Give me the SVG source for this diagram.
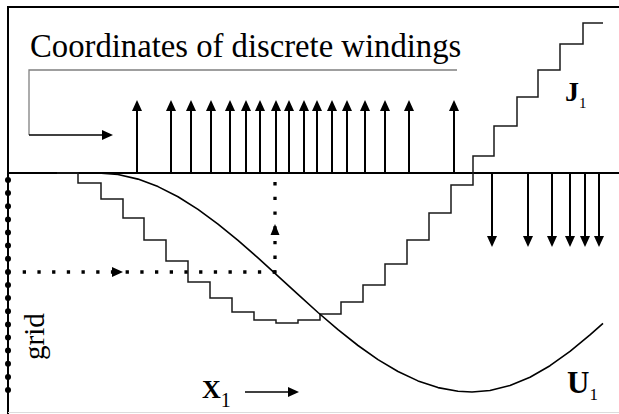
<svg xmlns="http://www.w3.org/2000/svg" width="619" height="414" viewBox="0 0 619 414">
<style>
.frame{stroke:#000;stroke-width:2;fill:none}
.axis{stroke:#000;stroke-width:2;fill:none}
.arr{stroke:#000;stroke-width:2;fill:none;marker-end:url(#ah)}
.thin{stroke:#000;stroke-width:1.4;fill:none}
.stair{stroke:#1a1a1a;stroke-width:1.5;fill:none}
.curve{stroke:#000;stroke-width:1.6;fill:none;stroke-linejoin:round}
.dots{stroke:#000;stroke-width:3.3;fill:none;stroke-dasharray:3.3 11.4}
text{font-family:"Liberation Serif","Times New Roman",serif;fill:#000}
.b{font-weight:bold}
</style>
<defs>
<marker id="ah" viewBox="0 0 11 10" refX="1" refY="5" markerWidth="11" markerHeight="10" markerUnits="userSpaceOnUse" orient="auto">
<path d="M0,0 L11,5 L0,10 Z" fill="#000"/>
</marker>
</defs>
<g id="frame">
<line class="frame" x1="8" y1="7" x2="619" y2="7"/>
<line class="frame" x1="8" y1="6" x2="8" y2="414"/>
<line x1="8" y1="412.5" x2="619" y2="412.5" stroke="#dcdcdc" stroke-width="1"/>
</g>
<g id="title">
<text font-family="Liberation Serif, serif" x="30" y="57" font-size="32.7">Coordinates of discrete windings</text>
<polyline points="457,70 29,70 29,135" stroke="#808080" stroke-width="1.3" fill="none"/>
<line class="thin" x1="29" y1="135" x2="103" y2="135" marker-end="url(#ah)"/>
</g>
<g id="axis">
<line class="axis" x1="8" y1="173" x2="619" y2="173"/>
</g>
<g id="windings-up">
<line class="arr" x1="137" y1="173" x2="137" y2="110"/>
<line class="arr" x1="171" y1="173" x2="171" y2="110"/>
<line class="arr" x1="191" y1="173" x2="191" y2="110"/>
<line class="arr" x1="211" y1="173" x2="211" y2="110"/>
<line class="arr" x1="230" y1="173" x2="230" y2="110"/>
<line class="arr" x1="246" y1="173" x2="246" y2="110"/>
<line class="arr" x1="260" y1="173" x2="260" y2="110"/>
<line class="arr" x1="276" y1="173" x2="276" y2="110"/>
<line class="arr" x1="289" y1="173" x2="289" y2="110"/>
<line class="arr" x1="304" y1="173" x2="304" y2="110"/>
<line class="arr" x1="317" y1="173" x2="317" y2="110"/>
<line class="arr" x1="332" y1="173" x2="332" y2="110"/>
<line class="arr" x1="347" y1="173" x2="347" y2="110"/>
<line class="arr" x1="365" y1="173" x2="365" y2="110"/>
<line class="arr" x1="385" y1="173" x2="385" y2="110"/>
<line class="arr" x1="409" y1="173" x2="409" y2="110"/>
<line class="arr" x1="454" y1="173" x2="454" y2="110"/>
</g>
<g id="windings-down">
<line class="arr" x1="492" y1="173" x2="492" y2="237"/>
<line class="arr" x1="528" y1="173" x2="528" y2="237"/>
<line class="arr" x1="552" y1="173" x2="552" y2="237"/>
<line class="arr" x1="570" y1="173" x2="570" y2="237"/>
<line class="arr" x1="585" y1="173" x2="585" y2="237"/>
<line class="arr" x1="599" y1="173" x2="599" y2="237"/>
</g>
<g id="J1-staircase">
<path class="stair" d="M57,173 H78 V183 H101 V199 H123 V218 H144 V240 H166 V261 H188 V282 H210 V298 H232 V312 H254 V320 H276 V323 H298 V320 H320 V314 H341 V302 H363 V285 H385 V264 H407 V240 H429 V213 H451 V185 H473 V156 H494 V126 H517 V97 H538 V70 H560 V44 H583 V23 H603"/>
</g>
<g id="U1-curve">
<polyline class="curve" points="87,173 98,173 118,174.5 138,179.1 158,186.6 178,196.8 198,209.4 218,224.1 238,240.4 258,257.9 278,276.1 298,294.4 318,312.5 338,329.7 358,345.5 378,359.6 398,371.5 418,380.9 438,387.6 458,391.2 472,392 490,390.5 510,385.5 530,377.2 550,365.7 570,351.4 590,334.9 603,323.3"/>
</g>
<g id="grid">
<g fill="#000">
<circle cx="8" cy="180" r="3"/><circle cx="8" cy="193.1" r="3"/><circle cx="8" cy="206.3" r="3"/><circle cx="8" cy="219.4" r="3"/><circle cx="8" cy="232.5" r="3"/><circle cx="8" cy="245.6" r="3"/><circle cx="8" cy="258.8" r="3"/><circle cx="8" cy="271.9" r="3"/><circle cx="8" cy="285" r="3"/><circle cx="8" cy="298.1" r="3"/><circle cx="8" cy="311.3" r="3"/><circle cx="8" cy="324.4" r="3"/><circle cx="8" cy="337.5" r="3"/><circle cx="8" cy="350.6" r="3"/><circle cx="8" cy="363.8" r="3"/><circle cx="8" cy="376.9" r="3"/><circle cx="8" cy="390" r="3"/>
</g>
<text font-family="Liberation Serif, serif" font-size="29" transform="translate(44,360) rotate(-90)">grid</text>
</g>
<g id="mapping">
<line class="dots" x1="22.7" y1="272" x2="276" y2="272"/>
<path d="M112,267 L123,272 L112,277 Z" fill="#000"/>
<line class="dots" x1="275" y1="273.6" x2="275" y2="181"/>
<path d="M270.5,235 L275,224 L279.5,235 Z" fill="#000"/>
</g>
<g id="labels">
<text font-family="Liberation Serif, serif" x="565" y="101"><tspan class="b" font-size="28">J</tspan><tspan font-size="15" dy="7">1</tspan></text>
<text font-family="Liberation Serif, serif" x="567" y="393"><tspan class="b" font-size="31">U</tspan><tspan font-size="17" dy="7">1</tspan></text>
<text font-family="Liberation Serif, serif" x="202" y="398"><tspan class="b" font-size="26">X</tspan><tspan font-size="20" dy="9">1</tspan></text>
<line class="thin" x1="245" y1="392" x2="289" y2="392" marker-end="url(#ah)"/>
</g>
</svg>
